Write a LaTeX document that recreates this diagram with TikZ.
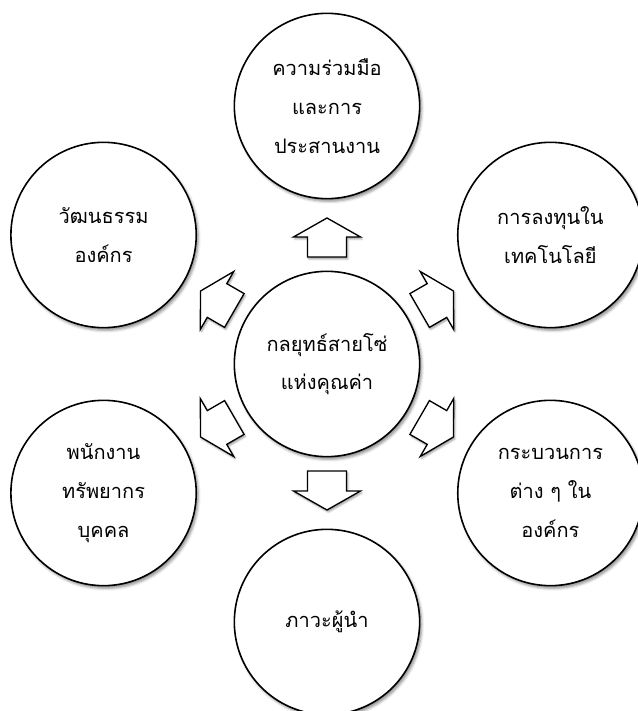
\documentclass[tikz,border=0pt]{standalone}
\usepackage{fontspec}
\newfontfamily\thaifont[Script=Thai]{Loma}
\usetikzlibrary{shadows.blur}
\tikzset{bubble/.style={circle, draw=black, line width=1.2pt, fill=white,
    minimum size=139pt, inner sep=0pt, align=center,
    font=\thaifont\fontsize{15}{29}\selectfont,
    blur shadow={shadow xshift=1.5pt, shadow yshift=-2pt, shadow blur radius=2pt, shadow opacity=45}},
fatarrow/.style={draw=black, line width=1pt, fill=white, line join=miter,
    blur shadow={shadow xshift=1pt, shadow yshift=-1.5pt, shadow blur radius=1.5pt, shadow opacity=40}}}

\begin{document}
\begin{tikzpicture}[x=0.75pt, y=0.75pt]
\useasboundingbox (-327,-347) rectangle (310,364);

\node[bubble] (hub) at (0,0) {กลยุทธ์สายโซ่\\แห่งคุณค่า};

\node[bubble] (coop)    at (90:258)  {ความร่วมมือ\\และการ\\ประสานงาน};
\node[bubble] (tech)    at (30:258)  {การลงทุนใน\\เทคโนโลยี};
\node[bubble] (culture) at (150:258) {วัฒนธรรม\\องค์กร};
\node[bubble] (staff)   at (210:258) {พนักงาน\\ทรัพยากร\\บุคคล};
\node[bubble] (process) at (330:258) {กระบวนการ\\ต่าง ๆ ใน\\องค์กร};
\node[bubble] (lead)    at (270:258) {ภาวะผู้นำ};

% block arrows out of the hub
\foreach \a in {90,30,150,210,270,330}
    \draw[fatarrow, shift={(\a:107)}, rotate=\a] (0,-19.5) -- (20,-19.5) -- (20,-33.5)
        -- (39,0) -- (20,33.5) -- (20,19.5) -- (0,19.5) -- cycle;

\end{tikzpicture}
\end{document}
